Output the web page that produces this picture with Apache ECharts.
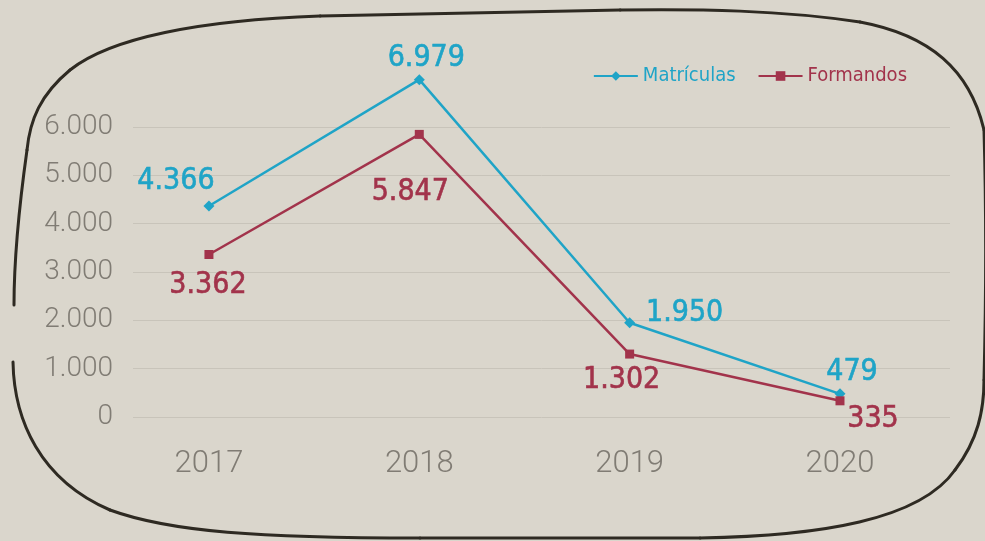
<!DOCTYPE html>
<html>
<head>
<meta charset="utf-8">
<script src="https://cdn.jsdelivr.net/npm/echarts@6/dist/echarts.min.js"></script>
<style>
  html, body { margin: 0; padding: 0; background: #dad6cc; }
  #chart { width: 985px; height: 541px; }
</style>
</head>
<body>
<div id="chart"></div>
<script>
// anos e valores
var years = [2017, 2018, 2019, 2020];
var matriculas = [4366, 6979, 1950, 479];
var formandos = [3362, 5847, 1302, 335];
var yTicks = [0, 1000, 2000, 3000, 4000, 5000, 6000];

// deslocamento dos rótulos (px) em relação ao ponto
var matOffsets = [[-33, -25], [7, -21], [55, -10], [12, -22]];
var forOffsets = [[-1, 31], [-9, 58], [-8, 26], [33, 18]];

var cyan = '#1fa4c7';
var wine = '#a2334b';

// moldura "desenhada à mão": trechos bezier [x1,y1, c1x,c1y, c2x,c2y, x2,y2]
var frame = [
    [13, 362, 14, 420, 40, 480, 110, 510],
    [110, 510, 170, 532, 260, 538, 420, 538],
    [420, 538, 520, 538, 600, 538, 700, 538],
    [700, 538, 820, 536, 920, 520, 955, 470],
    [955, 470, 978, 440, 984, 410, 984, 380],
    [984, 380, 986, 300, 986, 200, 984, 130],
    [984, 130, 970, 70, 930, 35, 860, 22],
    [860, 22, 780, 10, 700, 9, 620, 10],
    [620, 10, 520, 12, 420, 14, 320, 16],
    [320, 16, 200, 20, 110, 38, 70, 70],
    [70, 70, 40, 95, 30, 120, 27, 150],
    [27, 150, 20, 200, 14, 260, 14, 305]
];

// formato pt-BR: 4366 -> 4.366
function fmt(v) {
    var s = String(v);
    return s.length > 3 ? s.slice(0, s.length - 3) + '.' + s.slice(s.length - 3) : s;
}

function buildData(values, offsets) {
    return values.map(function (v, i) {
        return {
            value: [years[i], v],
            label: { offset: offsets[i] }
        };
    });
}

function labelStyle(color) {
    return {
        show: true,
        position: 'inside',
        fontFamily: 'DejaVu Sans Condensed',
        fontSize: 30,
        color: color,
        textBorderColor: color,
        textBorderWidth: 0.6,
        formatter: function (p) { return fmt(p.value[1]); }
    };
}

var frameShapes = frame.map(function (s) {
    return {
        type: 'bezierCurve',
        shape: { x1: s[0], y1: s[1], cpx1: s[2], cpy1: s[3], cpx2: s[4], cpy2: s[5], x2: s[6], y2: s[7] },
        style: { fill: null, stroke: '#2e2a22', lineWidth: 3, lineCap: 'round' },
        z: 0
    };
});

var myChart = echarts.init(document.getElementById('chart'));
myChart.setOption({
    backgroundColor: '#dad6cc',
    animation: false,
    graphic: frameShapes,
    legend: {
        top: 61,
        right: 73,
        itemWidth: 44,
        itemHeight: 12,
        itemGap: 22,
        textStyle: {
            fontFamily: 'DejaVu Sans Condensed',
            fontSize: 20,
            color: 'inherit'
        },
        data: ['Matrículas', 'Formandos']
    },
    grid: {
        left: 133,
        right: 35,
        top: 127,
        bottom: 124
    },
    xAxis: {
        type: 'value',
        min: 2016.639,
        max: 2020.523,
        axisLine: { show: false },
        axisTick: { show: false },
        splitLine: { show: false },
        axisLabel: {
            customValues: years,
            margin: 32,
            fontFamily: 'Roboto',
            fontWeight: 300,
            fontSize: 31,
            color: '#807c74',
            formatter: function (v) { return String(v); }
        }
    },
    yAxis: {
        type: 'value',
        min: 0,
        max: 6000,
        interval: 1000,
        axisLine: { show: false },
        axisTick: { show: false },
        splitLine: { lineStyle: { color: '#c8c4ba', width: 1 } },
        axisLabel: {
            margin: 20,
            fontFamily: 'Roboto',
            fontWeight: 300,
            fontSize: 28,
            color: '#807c74',
            formatter: function (v) { return yTicks.indexOf(v) >= 0 ? fmt(v) : ''; }
        }
    },
    series: [
        {
            name: 'Matrículas',
            type: 'line',
            clip: false,
            symbol: 'diamond',
            symbolSize: 11,
            itemStyle: { color: cyan },
            lineStyle: { color: cyan, width: 2.5 },
            label: labelStyle(cyan),
            data: buildData(matriculas, matOffsets)
        },
        {
            name: 'Formandos',
            type: 'line',
            clip: false,
            symbol: 'rect',
            symbolSize: 9,
            itemStyle: { color: wine },
            lineStyle: { color: wine, width: 2.5 },
            label: labelStyle(wine),
            data: buildData(formandos, forOffsets)
        }
    ]
});
</script>
</body>
</html>
